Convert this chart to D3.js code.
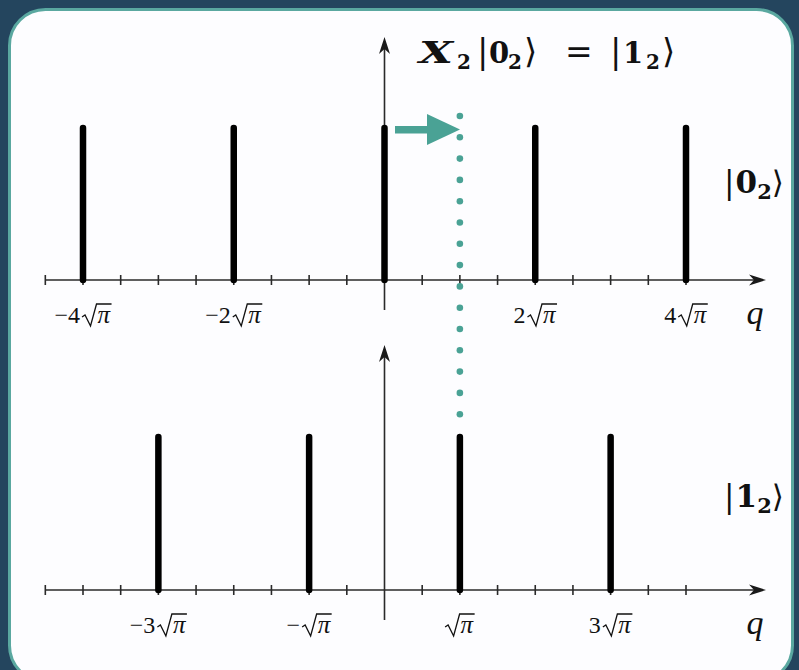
<!DOCTYPE html>
<html>
<head>
<meta charset="utf-8">
<script src="https://cdn.jsdelivr.net/npm/d3@7"></script>
<style>
  html, body { margin: 0; padding: 0; background: #24455e; }
  svg { display: block; }
</style>
</head>
<body>
<svg id="chart" width="799" height="670"></svg>
<script>
// Comb of position eigenstates for the GKP qubit states |0_2> and |1_2>
// Positions are in units of sqrt(pi)
const zeroPeaks = [-4, -2, 0, 2, 4];
const zeroAmp = [1, 1, 1, 1, 1];
const onePeaks = [-3, -1, 1, 3];
const oneAmp = [1, 1, 1, 1];
const tickValues = [-4.5, -4, -3.5, -3, -2.5, -2, -1.5, -1, -0.5, 0.5, 1, 1.5, 2, 2.5, 3, 3.5, 4];
const zeroLabelPos = [-4, -2, 2, 4];
const zeroLabelCoef = ["−4", "−2", "2", "4"];
const oneLabelPos = [-3, -1, 1, 3];
const oneLabelCoef = ["−3", "−", "", "3"];
const shiftTarget = 1;   // X_2 shifts the comb by one sqrt(pi)

const svg = d3.select("#chart");
const serif = "'DejaVu Serif', 'Liberation Serif', serif";
const tserif = "'Liberation Serif', 'DejaVu Serif', serif";

// card background
svg.append("rect")
  .attr("x", 9.5).attr("y", 9.5).attr("width", 783).attr("height", 672)
  .attr("rx", 36).attr("ry", 36)
  .attr("fill", "#fdfdff").attr("stroke", "#5aa8a0").attr("stroke-width", 3);

const x = d3.scaleLinear().domain([-4, 4]).range([83, 686]);
const xMinAxis = 45, xMaxAxis = 766;

// label of the form  c·√π  with a drawn radical sign
function sqrtPiLabel(parent, cx, baseline, coef) {
  const g = parent.append("g");
  const c = g.append("text").attr("font-family", tserif).attr("font-size", 24)
    .attr("fill", "#111").attr("y", 0).text(coef);
  const cw = coef ? c.node().getComputedTextLength() + 2 : 0;
  const p = g.append("text").attr("font-family", tserif).attr("font-style", "italic")
    .attr("font-size", 25).attr("fill", "#111").text("π");
  const pw = p.node().getComputedTextLength();
  const rx = cw;
  g.append("path")
    .attr("d", `M${rx},-6 L${rx + 3},-8 L${rx + 8.5},3 L${rx + 14.5},-19 L${rx + 16 + pw + 1},-19`)
    .attr("fill", "none").attr("stroke", "#111").attr("stroke-width", 1.3)
    .attr("stroke-linejoin", "miter");
  p.attr("x", rx + 15.5);
  const total = rx + 16 + pw + 1;
  g.attr("transform", `translate(${cx - total / 2},${baseline})`);
}

function panel(baseY, topY, axisTopY, peaks, amps, labelPos, labelCoef, stateDigit, stateY) {
  const y = d3.scaleLinear().domain([0, 1]).range([baseY, topY]);
  const g = svg.append("g");

  // horizontal axis
  g.append("line")
    .attr("x1", xMinAxis).attr("x2", xMaxAxis - 6)
    .attr("y1", baseY).attr("y2", baseY)
    .attr("stroke", "#2a2a2a").attr("stroke-width", 1.6);
  g.append("path")
    .attr("d", `M${xMaxAxis},${baseY} L${xMaxAxis - 17},${baseY - 5.5} L${xMaxAxis - 12},${baseY} L${xMaxAxis - 17},${baseY + 5.5} Z`)
    .attr("fill", "#1a1a1a");

  // ticks
  g.selectAll(".tick").data(tickValues).enter().append("line")
    .attr("x1", d => x(d)).attr("x2", d => x(d))
    .attr("y1", baseY - 5).attr("y2", baseY + 5)
    .attr("stroke", "#2a2a2a").attr("stroke-width", 1.6);

  // vertical axis
  const x0 = x(0);
  g.append("line")
    .attr("x1", x0).attr("x2", x0)
    .attr("y1", baseY + 30).attr("y2", axisTopY + 6)
    .attr("stroke", "#2a2a2a").attr("stroke-width", 1.6);
  g.append("path")
    .attr("d", `M${x0},${axisTopY} L${x0 - 5.5},${axisTopY + 17} L${x0},${axisTopY + 12} L${x0 + 5.5},${axisTopY + 17} Z`)
    .attr("fill", "#1a1a1a");

  // peaks
  g.selectAll(".peak").data(peaks).enter().append("line")
    .attr("x1", d => x(d)).attr("x2", d => x(d))
    .attr("y1", y(0)).attr("y2", (d, i) => y(amps[i]))
    .attr("stroke", "#000").attr("stroke-width", 6.5).attr("stroke-linecap", "round");

  // tick labels
  labelPos.forEach((d, i) => sqrtPiLabel(g, x(d), baseY + 43, labelCoef[i]));

  // axis name
  g.append("text")
    .attr("x", 755).attr("y", baseY + 44)
    .attr("text-anchor", "middle")
    .attr("font-family", tserif).attr("font-style", "italic")
    .attr("font-size", 34).attr("fill", "#111").text("q");

  // state label |n_2>
  const st = g.append("text")
    .attr("x", 754).attr("y", stateY)
    .attr("text-anchor", "middle")
    .attr("font-family", serif).attr("font-size", 31).attr("fill", "#111");
  st.append("tspan").attr("font-weight", "normal").text("|");
  st.append("tspan").attr("font-weight", "bold").attr("dx", 1).text(stateDigit);
  st.append("tspan").attr("font-weight", "bold").attr("font-size", 21).attr("dy", 6).text("2");
  st.append("tspan").attr("font-weight", "normal").attr("dy", -6).text("⟩");
}

panel(280, 128, 37, zeroPeaks, zeroAmp, zeroLabelPos, zeroLabelCoef, "0", 193);
panel(590, 437, 345, onePeaks, oneAmp, oneLabelPos, oneLabelCoef, "1", 507);

// dotted guide from the origin peak to the shifted position
const xs = x(shiftTarget);
const dots = d3.range(116, 432, 21.3);
svg.selectAll(".dot").data(dots).enter().append("circle")
  .attr("cx", xs).attr("cy", d => d).attr("r", 3.3)
  .attr("fill", "#4aa295");

// shift arrow
svg.append("rect")
  .attr("x", 395).attr("y", 126).attr("width", 36).attr("height", 7.5)
  .attr("fill", "#4aa295");
svg.append("path")
  .attr("d", "M427,114 L460,129.5 L427,145 Z")
  .attr("fill", "#4aa295");

// title  X_2 |0_2> = |1_2>
const tBase = 63;
const titleG = svg.append("g").attr("font-family", serif).attr("fill", "#111");
titleG.append("text").attr("x", 419).attr("y", tBase)
  .attr("font-size", 30).attr("font-weight", "bold").attr("font-style", "italic")
  .attr("textLength", 34).attr("lengthAdjust", "spacingAndGlyphs").text("X");
const title = titleG.append("text").attr("y", tBase).attr("font-size", 29);
const sub = 20;
title.append("tspan").attr("x", 457).attr("dy", 6).attr("font-weight", "bold").attr("font-size", sub).text("2");
title.append("tspan").attr("x", 477).attr("dy", -6).attr("font-size", 34).text("|");
title.append("tspan").attr("x", 489).attr("font-weight", "bold").text("0");
title.append("tspan").attr("x", 508).attr("dy", 6).attr("font-weight", "bold").attr("font-size", sub).text("2");
title.append("tspan").attr("x", 524).attr("dy", -6).attr("font-size", 34).text("⟩");
title.append("tspan").attr("x", 565).attr("font-size", 33).text("=");
title.append("tspan").attr("x", 610).attr("font-size", 34).text("|");
title.append("tspan").attr("x", 623).attr("font-weight", "bold").text("1");
title.append("tspan").attr("x", 646).attr("dy", 6).attr("font-weight", "bold").attr("font-size", sub).text("2");
title.append("tspan").attr("x", 662).attr("dy", -6).attr("font-size", 34).text("⟩");
</script>
</body>
</html>
